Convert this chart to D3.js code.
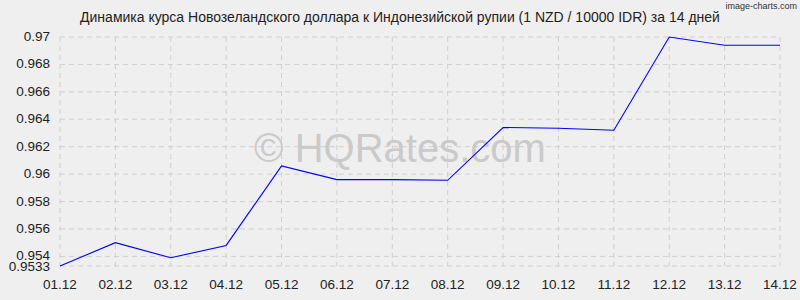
<!DOCTYPE html>
<html><head><meta charset="utf-8">
<script src="https://cdn.jsdelivr.net/npm/d3@7"></script>
<style>body{margin:0;background:#efefef;} text{font-family:"Liberation Sans",Arial,sans-serif;}</style>
</head><body>
<svg id="c" width="800" height="300"></svg>
<script>
const categories = ["01.12","02.12","03.12","04.12","05.12","06.12","07.12","08.12","09.12","10.12","11.12","12.12","13.12","14.12"];
const values = [0.9533,0.9550,0.9539,0.9548,0.9606,0.9596,0.9596,0.95955,0.9634,0.96335,0.9632,0.9700,0.9694,0.9694];
const yTicks = [0.9533,0.954,0.956,0.958,0.96,0.962,0.964,0.966,0.968,0.97];
const yTickLabels = ["0.9533","0.954","0.956","0.958","0.96","0.962","0.964","0.966","0.968","0.97"];
const title = "Динамика курса Новозеландского доллара к Индонезийской рупии (1 NZD / 10000 IDR) за 14 дней";

const svg = d3.select("#c");
svg.append("rect").attr("width",800).attr("height",300).attr("fill","#efefef");
const x = d3.scalePoint().domain(categories).range([60,780]);
const y = d3.scaleLinear().domain([0.9533,0.97]).range([266,37]);

// grid
svg.append("g").selectAll("line").data(yTicks).join("line")
  .attr("x1",60).attr("x2",780).attr("y1",d=>y(d)).attr("y2",d=>y(d))
  .attr("stroke","#cfcfcf").attr("stroke-dasharray","5,4");
svg.append("g").selectAll("line").data(categories).join("line")
  .attr("x1",d=>x(d)).attr("x2",d=>x(d)).attr("y1",37).attr("y2",266)
  .attr("stroke","#cfcfcf").attr("stroke-dasharray","5,4");

// watermark
svg.append("text").attr("x",400).attr("y",162).attr("text-anchor","middle")
  .attr("font-size",40).attr("fill","#cacaca").text("© HQRates.com");

// y labels
svg.append("g").selectAll("text").data(yTicks).join("text")
  .attr("x",50).attr("y",(d,i)=>y(d)+(i===0?5:4)).attr("text-anchor","end")
  .attr("font-size",13.5).attr("fill","#222").text((d,i)=>yTickLabels[i]);

// x labels
svg.append("g").selectAll("text").data(categories).join("text")
  .attr("x",d=>x(d)).attr("y",289).attr("text-anchor","middle")
  .attr("font-size",13.5).attr("fill","#222").text(d=>d);

// line
svg.append("path").datum(values)
  .attr("d",d3.line().x((d,i)=>x(categories[i])).y(d=>y(d)))
  .attr("fill","none").attr("stroke","#0000ff").attr("stroke-width",1.1);

// title
svg.append("text").attr("x",400).attr("y",22).attr("text-anchor","middle")
  .attr("font-size",14).attr("fill","#222").text(title);
svg.append("text").attr("x",797).attr("y",9).attr("text-anchor","end")
  .attr("font-size",9).attr("fill","#333").text("image-charts.com");
</script>
</body></html>
